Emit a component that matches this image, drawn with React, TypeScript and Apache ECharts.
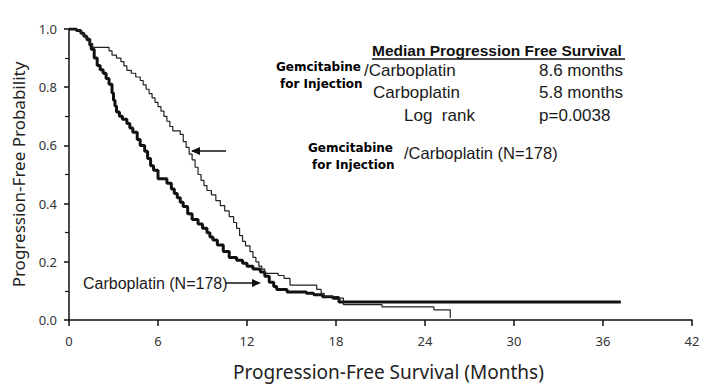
import React, { useEffect, useRef } from "react";
import * as echarts from "echarts";

// Kaplan–Meier step points [month, probability]
const gemCarboCurve: [number, number][] = [
  [0, 1.0], [0.5, 0.995], [0.8, 0.985], [1.0, 0.975], [1.2, 0.96], [1.4, 0.95], [1.6, 0.937],
  [2.7, 0.925], [2.9, 0.91], [3.2, 0.9], [3.5, 0.888], [3.7, 0.873], [3.9, 0.858], [4.2, 0.848],
  [4.5, 0.835], [4.8, 0.823], [5.0, 0.808], [5.2, 0.793], [5.4, 0.778], [5.6, 0.763], [5.8, 0.748],
  [6.0, 0.733], [6.2, 0.718], [6.4, 0.7], [6.6, 0.683], [6.8, 0.665], [7.0, 0.65], [7.5, 0.638],
  [7.7, 0.613], [7.9, 0.593], [8.1, 0.57], [8.3, 0.55], [8.5, 0.525], [8.7, 0.5], [8.9, 0.48],
  [9.1, 0.462], [9.3, 0.445], [9.6, 0.43], [9.9, 0.41], [10.2, 0.393], [10.5, 0.375], [10.8, 0.355],
  [11.1, 0.335], [11.3, 0.315], [11.5, 0.29], [11.7, 0.27], [11.9, 0.255], [12.2, 0.235],
  [12.4, 0.215], [12.6, 0.2], [12.8, 0.185], [13.0, 0.175], [13.2, 0.16], [14.1, 0.153],
  [14.5, 0.143], [14.9, 0.12], [16.7, 0.105], [17.0, 0.092], [17.2, 0.08], [18.2, 0.075],
  [18.5, 0.053], [21.1, 0.045], [24.6, 0.035], [25.7, 0.007],
];

const carboCurve: [number, number][] = [
  [0, 1.0], [0.5, 0.995], [0.8, 0.985], [1.0, 0.975], [1.2, 0.965], [1.4, 0.945], [1.5, 0.93],
  [1.7, 0.9], [1.9, 0.875], [2.1, 0.86], [2.3, 0.848], [2.5, 0.83], [2.7, 0.81], [2.9, 0.78],
  [3.0, 0.755], [3.1, 0.735], [3.2, 0.715], [3.4, 0.7], [3.6, 0.69], [3.9, 0.675], [4.1, 0.66],
  [4.3, 0.645], [4.6, 0.62], [4.8, 0.6], [5.1, 0.58], [5.3, 0.555], [5.5, 0.53], [5.7, 0.515],
  [6.0, 0.485], [6.6, 0.47], [6.9, 0.45], [7.1, 0.435], [7.3, 0.42], [7.5, 0.405], [7.7, 0.39],
  [8.0, 0.365], [8.3, 0.345], [8.7, 0.33], [9.0, 0.315], [9.3, 0.3], [9.5, 0.285], [9.7, 0.275],
  [10.0, 0.258], [10.4, 0.235], [10.8, 0.215], [11.3, 0.205], [11.7, 0.195], [12.0, 0.185],
  [12.4, 0.175], [12.9, 0.165], [13.2, 0.15], [13.5, 0.13], [13.8, 0.115], [14.0, 0.105],
  [14.7, 0.096], [16.0, 0.092], [16.5, 0.087], [17.1, 0.08], [17.8, 0.075], [18.2, 0.062],
  [37.2, 0.062],
];

const xTicks = { min: 0, max: 42, interval: 6 };
const yTicks = { min: 0, max: 1, interval: 0.2 };

const seriesNames = ["Gemcitabine for Injection/Carboplatin", "Carboplatin"];

const AXIS_FONT = '"Noto Sans", "Open Sans", sans-serif';
const LABEL_FONT = '"Liberation Sans", Arial, sans-serif';
const BOLD_FONT = '"DejaVu Sans", sans-serif';

function txt(text: string, x: number, y: number, opts: any = {}) {
  return {
    type: "text",
    x,
    y,
    silent: true,
    style: {
      text,
      fill: opts.fill || "#1a1a1a",
      fontSize: opts.fontSize || 17,
      fontFamily: opts.fontFamily || LABEL_FONT,
      fontWeight: opts.fontWeight || "normal",
      align: "left",
      verticalAlign: "middle",
      textAlign: "left",
      textVerticalAlign: "middle",
    },
  };
}

function gemLabel(x: number, y: number) {
  return [
    txt("Gemcitabine", x, y, { fontFamily: BOLD_FONT, fontWeight: "bold", fontSize: 12, fill: "#000" }),
    txt("for Injection", x + 4, y + 17, { fontFamily: BOLD_FONT, fontWeight: "bold", fontSize: 12, fill: "#000" }),
  ];
}

export default function App() {
  const ref = useRef<HTMLDivElement>(null);
  useEffect(() => {
    document.body.style.margin = "0";
    const chart = echarts.init(ref.current!, null, { renderer: "svg" });
    chart.setOption({
      animation: false,
      backgroundColor: "#fff",
      grid: { left: 69, right: 21, top: 29, bottom: 67, containLabel: false },
      xAxis: {
        type: "value",
        min: xTicks.min,
        max: xTicks.max,
        interval: xTicks.interval,
        offset: 5,
        name: "Progression-Free Survival (Months)",
        nameLocation: "middle",
        nameGap: 37,
        nameTextStyle: { fontFamily: AXIS_FONT, fontSize: 19, color: "#222", padding: [0, 0, 0, 16] },
        axisLine: { show: true, lineStyle: { color: "#111", width: 1.5 } },
        axisTick: { show: true, length: 6, inside: false, lineStyle: { color: "#111", width: 1.5 } },
        axisLabel: { fontFamily: AXIS_FONT, fontSize: 13, color: "#333", margin: 9 },
        splitLine: { show: false },
      },
      yAxis: {
        type: "value",
        min: yTicks.min,
        max: yTicks.max,
        interval: yTicks.interval,
        offset: 6,
        name: "Progression-Free Probability",
        nameLocation: "middle",
        nameGap: 36,
        nameTextStyle: { fontFamily: AXIS_FONT, fontSize: 17, color: "#222" },
        axisLine: { show: true, lineStyle: { color: "#111", width: 1.5 } },
        axisTick: { show: true, length: 5, inside: false, lineStyle: { color: "#111", width: 1.5 } },
        minorTick: { show: true, splitNumber: 2, length: 4, lineStyle: { color: "#111", width: 1.2 } },
        axisLabel: {
          fontFamily: AXIS_FONT,
          fontSize: 13,
          color: "#333",
          margin: 6,
          formatter: (v: number) => v.toFixed(1),
        },
        splitLine: { show: false },
      },
      series: [
        {
          name: seriesNames[0],
          type: "line",
          step: "end",
          showSymbol: false,
          data: gemCarboCurve,
          lineStyle: { color: "#222", width: 1.2 },
          z: 3,
        },
        {
          name: seriesNames[1],
          type: "line",
          step: "end",
          showSymbol: false,
          data: carboCurve,
          lineStyle: { color: "#111", width: 3 },
          z: 2,
        },
      ],
      graphic: [
        txt("Median Progression Free Survival", 372, 50, { fontWeight: "bold", fontSize: 15.5, fill: "#111" }),
        { type: "line", silent: true, shape: { x1: 372, y1: 59, x2: 625, y2: 59 }, style: { stroke: "#111", lineWidth: 1.5 } },
        ...gemLabel(276, 67),
        txt("/Carboplatin", 364, 70),
        txt("8.6 months", 539, 70),
        txt("Carboplatin", 373, 92),
        txt("5.8 months", 539, 92),
        txt("Log  rank", 404, 115),
        txt("p=0.0038", 539, 115),
        ...gemLabel(308, 148),
        txt("/Carboplatin (N=178)", 404, 153, { fontSize: 16.5 }),
        txt("Carboplatin (N=178)", 83, 283, { fontSize: 16 }),
        { type: "line", silent: true, shape: { x1: 192, y1: 151, x2: 226, y2: 151 }, style: { stroke: "#111", lineWidth: 1.5 } },
        { type: "polygon", silent: true, shape: { points: [[191, 151], [200, 147], [200, 155]] }, style: { fill: "#111" } },
        { type: "line", silent: true, shape: { x1: 226, y1: 283, x2: 258, y2: 283 }, style: { stroke: "#111", lineWidth: 1.5 } },
        { type: "polygon", silent: true, shape: { points: [[261, 283], [252, 279], [252, 287]] }, style: { fill: "#111" } },
      ],
    });
    return () => chart.dispose();
  }, []);
  return <div ref={ref} style={{ width: 713, height: 387 }} />;
}
